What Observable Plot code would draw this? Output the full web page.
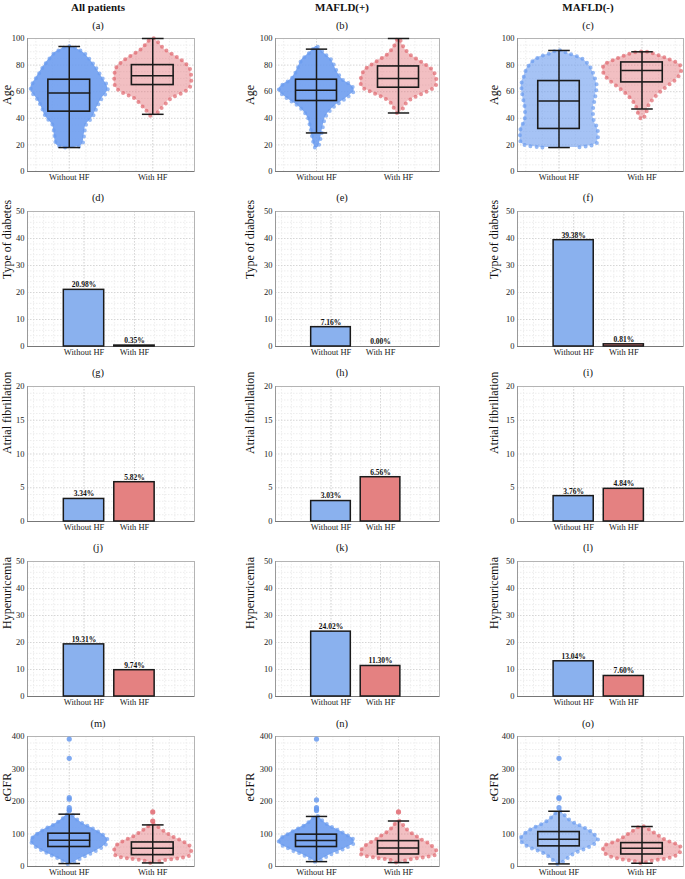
<!DOCTYPE html>
<html><head><meta charset="utf-8">
<script src="https://cdn.jsdelivr.net/npm/d3@7"></script>
<script src="https://cdn.jsdelivr.net/npm/@observablehq/plot@0.6"></script>
<style>
body{margin:0;background:#fff;}
#fig{position:relative;width:685px;height:879px;font-family:"Liberation Serif",serif;overflow:hidden;}
.lab{position:absolute;transform:translate(-50%,-50%);white-space:nowrap;color:#111;}
.ttl{font-weight:bold;font-size:11px;}
.pl{font-size:10.5px;}
#fig svg{position:absolute;overflow:visible;}
</style></head><body><div id="fig"></div>
<script>
// ---------------- data ----------------
const groups = ["Without HF", "With HF"];
const columnTitles = ["All patients", "MAFLD(+)", "MAFLD(-)"];
const panelLetters = [["(a)","(b)","(c)"],["(d)","(e)","(f)"],["(g)","(h)","(i)"],["(j)","(k)","(l)"],["(m)","(n)","(o)"]];
const rowLabels = ["Age", "Type of diabetes", "Atrial fibrillation", "Hyperuricemia", "eGFR"];

const ageTicks = [0, 20, 40, 60, 80, 100];
const pct50Ticks = [0, 10, 20, 30, 40, 50];
const pct20Ticks = [0, 5, 10, 15, 20];
const egfrTicks = [0, 100, 200, 300, 400];

// box statistics [lower whisker, Q1, median, Q3, upper whisker] per column, per group
const ageBox = [
  [[18, 45, 59, 69, 94], [43, 65, 72, 80, 100]],
  [[29, 53, 61, 69, 92], [44, 63, 70, 79, 100]],
  [[18, 32, 53, 68, 91], [47, 67, 76, 82, 90]]
];
const egfrBox = [
  [[9, 60, 81, 101, 161], [11, 35, 56, 74, 128]],
  [[15, 60, 80, 98, 154], [12, 37, 57, 78, 140]],
  [[8, 62, 84, 106, 170], [10, 37, 56, 72, 123]]
];
const egfrOutliers = [
  [[392, 333, 212, 207, 181, 175, 172], [168, 140]],
  [[392, 205, 181, 177, 172], [168]],
  [[333, 212, 209, 181], []]
];

// swarm outlines: [value, half-width in category units]
const ageSwarmAllWithout = [[18,0.05],[20,0.15],[28,0.18],[35,0.2],[41,0.28],[48,0.33],[54,0.38],[61,0.46],[65,0.45],[69,0.41],[74,0.36],[79,0.31],[84,0.25],[89,0.18],[92,0.1],[94,0.03]];
const ageSwarmAllWith = [[42,0.03],[46,0.08],[50,0.14],[55,0.22],[60,0.38],[64,0.45],[72,0.46],[78,0.44],[83,0.36],[88,0.24],[92,0.14],[96,0.08],[100,0.02]];
const ageSwarmPosWithout = [[18,0.02],[22,0.04],[28,0.06],[34,0.08],[41,0.11],[48,0.2],[56,0.38],[61,0.46],[65,0.42],[69,0.32],[74,0.26],[79,0.22],[84,0.18],[88,0.11],[91,0.06],[94,0.01]];
const ageSwarmPosWith = [[44,0.02],[48,0.06],[52,0.1],[56,0.2],[60,0.34],[64,0.45],[70,0.46],[76,0.42],[80,0.34],[84,0.24],[88,0.14],[92,0.08],[96,0.04],[100,0.01]];
const ageSwarmNegWithout = [[18,0.2],[21,0.45],[26,0.47],[33,0.46],[38,0.42],[46,0.41],[54,0.43],[61,0.45],[67,0.45],[72,0.42],[76,0.4],[80,0.36],[84,0.3],[87,0.2],[89,0.1],[91,0.03]];
const ageSwarmNegWith = [[40,0.02],[44,0.05],[50,0.08],[55,0.14],[60,0.22],[65,0.32],[70,0.42],[75,0.47],[80,0.46],[84,0.34],[87,0.22],[90,0.06]];

const egfrSwarmAllWithout = [[8,0.02],[12,0.05],[20,0.1],[28,0.16],[38,0.24],[48,0.32],[60,0.4],[72,0.45],[82,0.46],[92,0.43],[102,0.38],[110,0.33],[120,0.26],[130,0.18],[140,0.12],[150,0.07],[160,0.03]];
const egfrSwarmAllWith = [[11,0.03],[18,0.1],[25,0.3],[35,0.45],[45,0.46],[55,0.46],[65,0.44],[75,0.38],[85,0.3],[95,0.22],[105,0.16],[115,0.1],[125,0.05],[130,0.02]];
const egfrSwarmPosWithout = [[15,0.02],[22,0.06],[30,0.12],[40,0.2],[50,0.3],[60,0.38],[70,0.45],[80,0.46],[90,0.42],[100,0.35],[110,0.28],[120,0.2],[130,0.13],[140,0.08],[150,0.04],[155,0.02]];
const egfrSwarmPosWith = [[12,0.03],[20,0.1],[28,0.3],[38,0.46],[50,0.46],[60,0.42],[70,0.38],[80,0.3],[90,0.24],[100,0.18],[110,0.12],[120,0.08],[130,0.05],[140,0.02]];
const egfrSwarmNegWithout = [[8,0.02],[15,0.05],[25,0.1],[35,0.15],[45,0.22],[55,0.32],[65,0.4],[75,0.45],[85,0.47],[95,0.44],[105,0.4],[115,0.34],[125,0.26],[135,0.18],[145,0.12],[155,0.08],[165,0.04],[170,0.02]];
const egfrSwarmNegWith = [[10,0.02],[16,0.08],[25,0.3],[35,0.42],[45,0.46],[55,0.47],[65,0.45],[75,0.35],[85,0.26],[95,0.2],[105,0.14],[115,0.08],[123,0.03]];

// bar percentages per column [Without HF, With HF]
const diabetesPct = [[20.98, 0.35], [7.16, 0.00], [39.38, 0.81]];
const afPct = [[3.34, 5.82], [3.03, 6.56], [3.76, 4.84]];
const hyperuricemiaPct = [[19.31, 9.74], [24.02, 11.30], [13.04, 7.60]];

// ---------------- layout & style ----------------
const blueDot = "#6a9bef", redDot = "#e0666e";
const blueBar = "#8ab1ee", redBar = "#e48181";
const colPlotLeft = [27, 275, 517], colPlotRight = [194, 439, 683];
const colMarginLeft = [27, 30, 27];
const colCenter = [98, 342, 588];
const yLabelX = [7, 250, 494];
const rowPlotTop = [38, 211, 386, 561, 736], rowPlotBottom = [171, 346, 521, 696, 866];
const letterY = [25, 197, 372, 547, 723];

const ageSwarms = [[ageSwarmAllWithout, ageSwarmAllWith],[ageSwarmPosWithout, ageSwarmPosWith],[ageSwarmNegWithout, ageSwarmNegWith]];
const egfrSwarms = [[egfrSwarmAllWithout, egfrSwarmAllWith],[egfrSwarmPosWithout, egfrSwarmPosWith],[egfrSwarmNegWithout, egfrSwarmNegWith]];
const swarmOpacity = [[0.88, 0.42],[0.88, 0.42],[0.6, 0.42]];

const rows = [
  {kind: "box", stats: ageBox, swarms: ageSwarms, outliers: null, ydom: [0, 100], ticks: ageTicks, minor: 5},
  {kind: "bar", values: diabetesPct, ydom: [0, 50], ticks: pct50Ticks, minor: 2},
  {kind: "bar", values: afPct, ydom: [0, 20], ticks: pct20Ticks, minor: 1},
  {kind: "bar", values: hyperuricemiaPct, ydom: [0, 50], ticks: pct50Ticks, minor: 2},
  {kind: "box", stats: egfrBox, swarms: egfrSwarms, outliers: egfrOutliers, ydom: [0, 400], ticks: egfrTicks, minor: 20}
];

const fig = document.getElementById("fig");
function addLabel(text, x, y, cls) {
  const d = document.createElement("div");
  d.className = "lab " + cls; d.textContent = text;
  d.style.left = x + "px"; d.style.top = y + "px";
  fig.appendChild(d);
}
columnTitles.forEach((t, c) => addLabel(t, colCenter[c], 7, "ttl"));

rows.forEach((row, r) => {
  for (let c = 0; c < 3; c++) {
    addLabel(panelLetters[r][c], colCenter[c], letterY[r], "pl");
    const L = colPlotLeft[c], R = colPlotRight[c], T = rowPlotTop[r], B = rowPlotBottom[r];
    const mL = colMarginLeft[c], mT = 6, mR = 6, mB = 16;
    const xdom = row.kind === "box" ? [0.5, 2.5] : [-0.12, 3.19];
    const minorTicks = d3.range(row.ydom[0], row.ydom[1] + 1e-9, row.minor).filter(v => !row.ticks.includes(v));
    const xMinor = d3.range(Math.ceil(xdom[0] * 5) / 5, xdom[1], 0.2);
    const marks = [
      Plot.gridY(minorTicks, {stroke: "#ededed", strokeOpacity: 1, strokeDasharray: "1.5,1.5"}),
      Plot.gridX(xMinor, {stroke: "#ededed", strokeOpacity: 1, strokeDasharray: "1.5,1.5"}),
      Plot.gridY(row.ticks, {stroke: "#d6d6d6", strokeOpacity: 1, strokeDasharray: "1.5,1.5"}),
      Plot.gridX([1, 2], {stroke: "#d6d6d6", strokeOpacity: 1, strokeDasharray: "1.5,1.5"}),
      Plot.frame({stroke: "#b4b4b4"}),
      Plot.axisY(row.ticks, {tickSize: 0, tickPadding: 3, label: null, fontSize: 8.5}),
      Plot.axisX([1, 2], {tickSize: 0, tickPadding: 2, label: null, fontSize: 8.5, tickFormat: i => groups[i - 1]}),
      Plot.ruleY([row.ydom[0]], {stroke: "#777"}),
      Plot.ruleX([xdom[0]], {stroke: "#999"})
    ];
    if (row.kind === "bar") {
      const bars = groups.map((g, i) => ({pos: i + 1, v: row.values[c][i], fill: i === 0 ? blueBar : redBar}));
      marks.push(
        Plot.rect(bars, {x1: d => d.pos - 0.4, x2: d => d.pos + 0.4, y1: 0, y2: "v", fill: d => d.fill, stroke: "#1a1a1a", strokeWidth: 1.5}),
        Plot.text(bars, {x: "pos", y: "v", text: d => d.v.toFixed(2) + "%", dy: -5, fontWeight: "bold", fontSize: 7.5, fill: "#111"})
      );
    } else {
      groups.forEach((g, i) => {
        const pos = i + 1;
        const shape = row.swarms[c][i];
        const col = i === 0 ? blueDot : redDot;
        const outline = [...shape.map(d => ({x: pos - d[1], y: d[0]})), ...shape.slice().reverse().map(d => ({x: pos + d[1], y: d[0]}))];
        marks.push(
          Plot.areaX(shape, {y: d => d[0], x1: d => pos - d[1], x2: d => pos + d[1], fill: col, fillOpacity: swarmOpacity[c][i], curve: "catmull-rom"}),
          Plot.line(outline, {x: "x", y: "y", curve: "catmull-rom", stroke: col, strokeOpacity: 0.7, strokeWidth: 4, strokeLinecap: "round", strokeDasharray: "0 6"})
        );
        if (row.outliers) {
          marks.push(Plot.dot(row.outliers[c][i], {x: () => pos, y: d => d, r: 2.6, fill: col, fillOpacity: 0.85}));
        }
        const s = [row.stats[c][i]];
        marks.push(
          Plot.link(s, {x1: pos, x2: pos, y1: d => d[0], y2: d => d[4], stroke: "#1a1a1a", strokeWidth: 1.5}),
          Plot.link(s, {x1: pos - 0.13, x2: pos + 0.13, y1: d => d[0], y2: d => d[0], stroke: "#1a1a1a", strokeWidth: 1.5}),
          Plot.link(s, {x1: pos - 0.13, x2: pos + 0.13, y1: d => d[4], y2: d => d[4], stroke: "#1a1a1a", strokeWidth: 1.5}),
          Plot.rect(s, {x1: pos - 0.25, x2: pos + 0.25, y1: d => d[1], y2: d => d[3], fill: "none", stroke: "#1a1a1a", strokeWidth: 1.6}),
          Plot.link(s, {x1: pos - 0.25, x2: pos + 0.25, y1: d => d[2], y2: d => d[2], stroke: "#1a1a1a", strokeWidth: 1.5})
        );
      });
    }
    marks.push(Plot.text([rowLabels[r]], {frameAnchor: "left", rotate: -90, dx: yLabelX[c] - L, fontSize: 12, fill: "#111"}));
    const svg = Plot.plot({
      width: R - L + mL + mR, height: B - T + mT + mB,
      marginLeft: mL, marginTop: mT, marginRight: mR, marginBottom: mB,
      style: {fontFamily: "'Liberation Serif', serif", fontSize: "8.5px", color: "#222", background: "transparent", overflow: "visible"},
      x: {domain: xdom},
      y: {domain: row.ydom},
      marks
    });
    svg.style.left = (L - mL) + "px";
    svg.style.top = (T - mT) + "px";
    fig.appendChild(svg);
  }
});
</script></body></html>
